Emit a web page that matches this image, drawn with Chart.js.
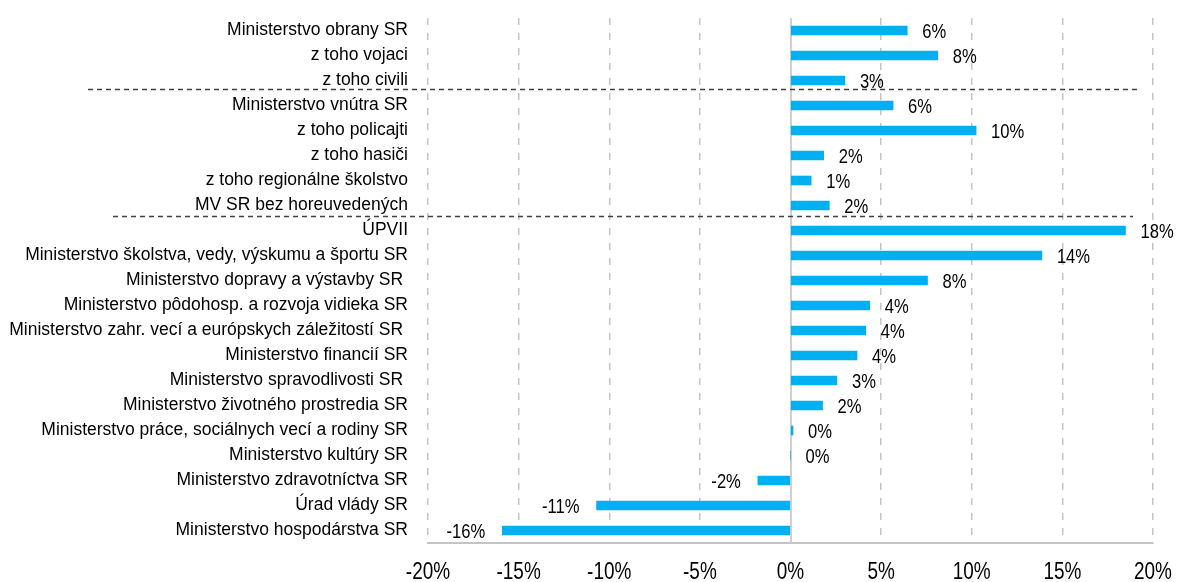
<!DOCTYPE html>
<html>
<head>
<meta charset="utf-8">
<script src="https://cdn.jsdelivr.net/npm/chart.js@4.4.1/dist/chart.umd.min.js"></script>
<style>
  html, body { margin: 0; padding: 0; background: #fff; }
  #wrap { width: 1177px; height: 582px; position: relative; }
</style>
</head>
<body>
<div id="wrap"><canvas id="mzdyChart" width="1177" height="582"></canvas></div>
<script>
// categories (top to bottom)
var categories = [
    "Ministerstvo obrany SR",
    "z toho vojaci",
    "z toho civili",
    "Ministerstvo vnútra SR",
    "z toho policajti",
    "z toho hasiči",
    "z toho regionálne školstvo",
    "MV SR bez horeuvedených",
    "ÚPVII",
    "Ministerstvo školstva, vedy, výskumu a športu SR",
    "Ministerstvo dopravy a výstavby SR ",
    "Ministerstvo pôdohosp. a rozvoja vidieka SR",
    "Ministerstvo zahr. vecí a európskych záležitostí SR ",
    "Ministerstvo financií SR",
    "Ministerstvo spravodlivosti SR ",
    "Ministerstvo životného prostredia SR",
    "Ministerstvo práce, sociálnych vecí a rodiny SR",
    "Ministerstvo kultúry SR",
    "Ministerstvo zdravotníctva SR",
    "Úrad vlády SR",
    "Ministerstvo hospodárstva SR"
];

// change in %
var changes = [6.44, 8.13, 3.0, 5.66, 10.24, 1.83, 1.14, 2.14, 18.48, 13.87, 7.56,
               4.37, 4.15, 3.67, 2.56, 1.77, 0.14, 0.0, -1.8, -10.7, -15.9];

// x axis ticks
var xTicks = [-20, -15, -10, -5, 0, 5, 10, 15, 20];

// dashed separators drawn after these category indexes
var separatorsAfter = [2, 7];

var FONT = "'Liberation Sans', Arial, sans-serif";
var SQUEEZE = 0.79; // the numbers in the original are set in a narrow face

// write narrow text by squeezing a normal face
function narrowText(ctx, txt, x, y, align) {
    ctx.save();
    ctx.translate(x, y);
    ctx.scale(SQUEEZE, 1);
    ctx.textAlign = align;
    ctx.fillText(txt, 0, 0);
    ctx.restore();
}

// draw zero line, separators, value labels and x tick labels
var extrasPlugin = {
    id: "extras",
    beforeDatasetsDraw: function (chart) {
        var ctx = chart.ctx;
        var x = chart.scales.x;
        var area = chart.chartArea;
        var x0 = Math.round(x.getPixelForValue(0));
        ctx.save();
        ctx.strokeStyle = "#cfcfcf";
        ctx.lineWidth = 2;
        ctx.beginPath();
        ctx.moveTo(x0, area.top);
        ctx.lineTo(x0, area.bottom);
        ctx.stroke();
        ctx.restore();
    },
    afterDatasetsDraw: function (chart) {
        var ctx = chart.ctx;
        var x = chart.scales.x;
        var y = chart.scales.y;
        var area = chart.chartArea;
        var meta = chart.getDatasetMeta(0);

        // separators
        var starts = [88, 113];
        var ends = [1137, 1133];
        var shift = [-4, -2];
        ctx.save();
        ctx.strokeStyle = "#404040";
        ctx.lineWidth = 1.5;
        ctx.setLineDash([5, 4]);
        separatorsAfter.forEach(function (idx, i) {
            var yy = Math.round((y.getPixelForValue(idx) + y.getPixelForValue(idx + 1)) / 2) + shift[i] + 0.5;
            ctx.beginPath();
            ctx.moveTo(starts[i], yy);
            ctx.lineTo(ends[i], yy);
            ctx.stroke();
        });
        ctx.restore();

        // value labels
        ctx.save();
        ctx.fillStyle = "#000";
        ctx.font = "21px " + FONT;
        ctx.textBaseline = "middle";
        meta.data.forEach(function (bar, i) {
            var v = changes[i];
            var txt = Math.round(v) + "%";
            if (txt === "-0%") txt = "0%";
            if (v < 0) {
                narrowText(ctx, txt, bar.x - 17, bar.y + 2, "right");
            } else {
                narrowText(ctx, txt, bar.x + 15, bar.y + 2, "left");
            }
        });

        // x tick labels
        ctx.font = "24px " + FONT;
        xTicks.forEach(function (v) {
            narrowText(ctx, v + "%", x.getPixelForValue(v), area.bottom + 29, "center");
        });
        ctx.restore();
    }
};

document.addEventListener("DOMContentLoaded", function () {
    var ctx = document.getElementById("mzdyChart").getContext("2d");

    new Chart(ctx, {
        type: "bar",
        data: {
            labels: categories,
            datasets: [{
                data: changes,
                backgroundColor: "#00b0f0",
                borderWidth: 0,
                barThickness: 9
            }]
        },
        options: {
            indexAxis: "y",
            responsive: false,
            animation: false,
            layout: { padding: { top: 18, right: 24, left: 0, bottom: 0 } },
            plugins: {
                legend: { display: false },
                tooltip: { enabled: false }
            },
            scales: {
                x: {
                    min: -20,
                    max: 20,
                    afterBuildTicks: function (scale) {
                        scale.ticks = xTicks.map(function (v) { return { value: v }; });
                    },
                    afterFit: function (scale) {
                        scale.height = 39;
                        scale.paddingLeft = 0;
                        scale.paddingRight = 0;
                    },
                    grid: {
                        color: function (c) {
                            return c.tick && c.tick.value === 0 ? "rgba(0,0,0,0)" : "#c4c4c4";
                        },
                        lineWidth: 1.5,
                        drawTicks: false
                    },
                    border: { display: true, color: "#c4c4c4", width: 2, dash: [7, 8] },
                    ticks: {
                        padding: 17,
                        color: "rgba(0,0,0,0)", // drawn by the plugin in a narrow face
                        font: { family: FONT, size: 19 },
                        maxRotation: 0,
                        callback: function (v) { return v + "%"; }
                    }
                },
                y: {
                    afterFit: function (scale) {
                        scale.width = 428;
                        scale.paddingTop = 0;
                        scale.paddingBottom = 0;
                    },
                    grid: { display: false, drawTicks: false },
                    border: { display: false },
                    ticks: {
                        padding: 20,
                        color: "#000",
                        autoSkip: false,
                        font: { family: FONT, size: 17.5 }
                    }
                }
            }
        },
        plugins: [extrasPlugin]
    });
});
</script>
</body>
</html>
